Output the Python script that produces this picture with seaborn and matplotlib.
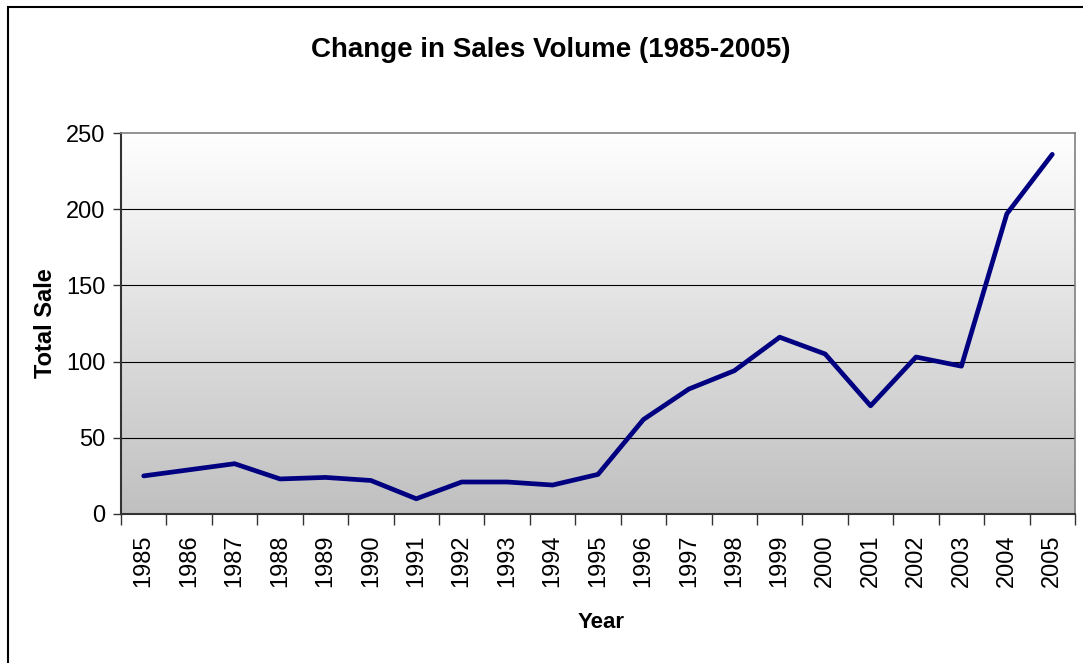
import numpy as np
import pandas as pd
import matplotlib
matplotlib.use("Agg")
import matplotlib.pyplot as plt
import seaborn as sns
from matplotlib.patches import Rectangle
from matplotlib.colors import LinearSegmentedColormap

years = ["1985", "1986", "1987", "1988", "1989", "1990", "1991", "1992", "1993", "1994",
         "1995", "1996", "1997", "1998", "1999", "2000", "2001", "2002", "2003", "2004", "2005"]
sales = [25, 29, 33, 23, 24, 22, 10, 21, 21, 19,
         26, 62, 82, 94, 116, 105, 71, 103, 97, 197, 236]
y_ticks = [0, 50, 100, 150, 200, 250]

sns.set_style("white")
plt.rcParams['font.family'] = ['Liberation Sans', 'DejaVu Sans']
plt.rcParams['text.color'] = 'black'
plt.rcParams['axes.labelcolor'] = 'black'
plt.rcParams['xtick.color'] = 'black'
plt.rcParams['ytick.color'] = 'black'

W, H = 1083, 663
fig = plt.figure(figsize=(W / 100, H / 100), dpi=100)
ax = fig.add_axes([121 / W, 1 - 514 / H, (1075 - 121) / W, (514 - 133) / H])

# gradient background
grad = np.linspace(1.0, 0.0, 256).reshape(-1, 1)
cmap = LinearSegmentedColormap.from_list("g", ["#c0c0c0", "#ffffff"])
ax.imshow(grad, aspect="auto", cmap=cmap, extent=[0, 1, 0, 1],
          transform=ax.transAxes, zorder=0, origin="upper", vmin=0, vmax=1)

df = pd.DataFrame({"pos": np.arange(len(years)), "sales": sales})
sns.lineplot(data=df, x="pos", y="sales", ax=ax, color="#000080", linewidth=3.4,
             zorder=3)

ax.set_xlim(-0.5, len(years) - 0.5)
ax.set_ylim(0, 250)
ax.set_yticks(y_ticks)
ax.set_yticklabels([str(t) for t in y_ticks], fontsize=17)
ax.set_xticks(np.arange(len(years)))
ax.set_xticklabels(years, rotation=90, fontsize=17)
ax.set_xticks(np.arange(len(years) + 1) - 0.5, minor=True)
ax.tick_params(axis="x", which="major", length=0, pad=15)
ax.tick_params(axis="x", which="minor", length=8, width=1, color="#333333", direction="out")
ax.tick_params(axis="y", which="major", length=6, width=1, color="#333333", direction="out", pad=5)
ax.tick_params(left=True, bottom=True)
ax.xaxis.set_tick_params(which="minor", bottom=True)

for y in y_ticks[1:-1]:
    ax.axhline(y, color="#000000", linewidth=0.8, zorder=1)

for s in ["top", "right"]:
    ax.spines[s].set_visible(True)
    ax.spines[s].set_color("#808080")
    ax.spines[s].set_linewidth(1.2)
for s in ["left", "bottom"]:
    ax.spines[s].set_color("#333333")
    ax.spines[s].set_linewidth(1.5)

ax.set_xlabel("Year", fontsize=16, fontweight="bold")
ax.xaxis.set_label_coords((601 - 121) / 954, -(623 - 514) / 381)
ax.set_ylabel("Total Sale", fontsize=17, fontweight="bold")
ax.yaxis.set_label_coords(-(121 - 45) / 954, 0.5)
ax.xaxis.label.set_va("center")
ax.yaxis.label.set_va("center")

fig.text(551 / W, 1 - 50 / H, "Change in Sales Volume (1985-2005)", ha="center", va="center",
         fontsize=20, fontweight="bold")

# figure border (left and top visible)
fig.patches.append(Rectangle((8 / W, -0.1), 1.2, 1.1 - 7 / H, transform=fig.transFigure,
                             fill=False, edgecolor="black", linewidth=1.5))

fig.savefig("out.png", dpi=100)
